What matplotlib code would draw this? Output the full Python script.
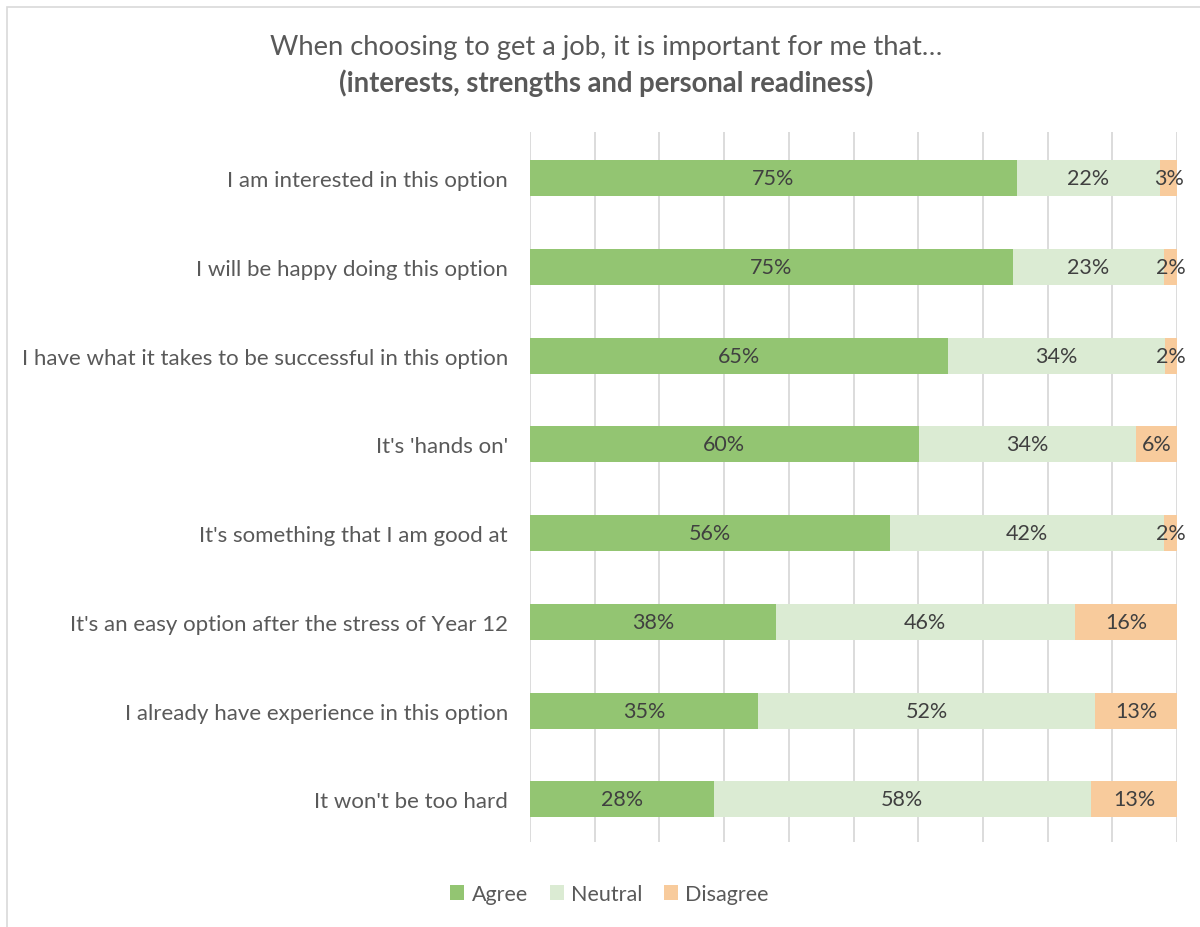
"""Stacked 100% bar chart of job-choice importance ratings."""

import matplotlib.pyplot as plt
import numpy as np
from matplotlib.patches import Rectangle

plt.rcParams["font.family"] = ["Lato", "DejaVu Sans"]

statements = [
    "I am interested in this option",
    "I will be happy doing this option",
    "I have what it takes to be successful in this option",
    "It's 'hands on'",
    "It's something that I am good at",
    "It's an easy option after the stress of Year 12",
    "I already have experience in this option",
    "It won't be too hard",
]
agree = [75.2, 74.6, 64.6, 60.1, 55.6, 38.0, 35.3, 28.4]
neutral = [22.2, 23.4, 33.6, 33.6, 42.4, 46.2, 52.1, 58.3]
disagree = [2.6, 2.0, 1.8, 6.3, 2.0, 15.8, 12.6, 13.3]

series = [("Agree", agree, "#93C572"),
          ("Neutral", neutral, "#DBEBD3"),
          ("Disagree", disagree, "#F8CB9C")]

fig = plt.figure(figsize=(12, 9.28), dpi=100)

# chart frame (only the top/left edges fall inside the canvas)
fig.patches.append(Rectangle((7 / 1200, -0.1), 1.2, 1.1 - 8 / 928,
                             transform=fig.transFigure, fill=False,
                             edgecolor="#D9D9D9", linewidth=1.2))

ax = fig.add_axes([530 / 1200, 1 - 843 / 928, 647 / 1200, 710 / 928])

y = np.arange(len(statements))
left = np.zeros(len(statements))
for name, vals, color in series:
    vals = np.array(vals)
    ax.barh(y, vals, left=left, height=0.405, color=color, label=name, zorder=2)
    for yi, l, v in zip(y, left, vals):
        ax.text(l + v / 2, yi, f"{v:.0f}%", ha="center", va="center",
                fontsize=15.5, color="#404040", zorder=3)
    left += vals

ax.set_xlim(0, 100)
ax.set_ylim(len(statements) - 0.52, -0.52)
ax.set_xticks(np.arange(0, 101, 10))
ax.xaxis.grid(True, color="#D9D9D9", linewidth=1.3, zorder=0)
ax.set_axisbelow(True)
ax.tick_params(axis="x", length=0, labelbottom=False)
ax.tick_params(axis="y", length=0, pad=16, labelsize=16, labelcolor="#595959")
ax.set_yticks(y)
ax.set_yticklabels(statements)
for s in ax.spines.values():
    s.set_visible(False)

fig.text(0.505, 1 - 47 / 928, "When choosing to get a job, it is important for me that…",
         ha="center", va="center", fontsize=19.7, color="#595959")
fig.text(0.505, 1 - 83 / 928, "(interests, strengths and personal readiness)",
         ha="center", va="center", fontsize=19.8, fontweight="bold", color="#595959")

handles, labels = ax.get_legend_handles_labels()
fig.legend(handles, labels, loc="center", bbox_to_anchor=(0.508, 1 - 895 / 928),
           ncol=3, frameon=False, fontsize=15.5, labelcolor="#595959",
           handlelength=0.65, handleheight=0.65, handletextpad=0.35, columnspacing=1.0)

fig.savefig("out.png", dpi=100)
